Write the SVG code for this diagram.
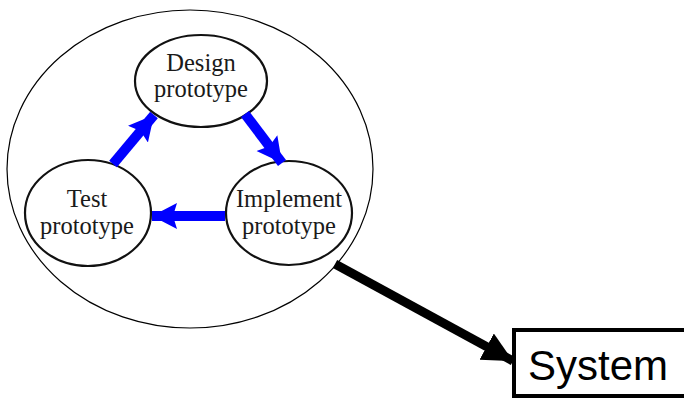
<svg xmlns="http://www.w3.org/2000/svg" width="684" height="400" viewBox="0 0 684 400">
  <style>
    .bubble { fill: #ffffff; stroke: #111111; stroke-width: 2.2; }
    .label { font-family: "Liberation Serif", "Times New Roman", serif; font-size: 24.5px; fill: #1a1a1a; text-anchor: middle; }
    .flow { stroke: #0000ff; stroke-width: 10; fill: none; }
    .out { stroke: #000000; stroke-width: 9; fill: none; }
  </style>
  <defs>
    <marker id="blueHead" markerUnits="userSpaceOnUse" markerWidth="30" markerHeight="30" refX="25" refY="13" orient="auto">
      <path d="M0,0 L25,13 L0,26 L4,13 Z" fill="#0000ff"/>
    </marker>
    <marker id="blackHead" markerUnits="userSpaceOnUse" markerWidth="34" markerHeight="34" refX="30" refY="15" orient="auto">
      <path d="M0,0 L30,15 L0,30 Z" fill="#000000"/>
    </marker>
  </defs>

  <rect width="684" height="400" fill="#ffffff"/>

  <!-- outer cycle boundary -->
  <g id="cycle">
    <ellipse cx="190" cy="169" rx="183" ry="159" fill="#ffffff" stroke="#000000" stroke-width="1.2"/>
  </g>

  <g id="design">
    <ellipse class="bubble" cx="201" cy="81" rx="66" ry="46"/>
    <text class="label" x="201" y="71">Design</text>
    <text class="label" x="201" y="97">prototype</text>
  </g>

  <g id="test">
    <ellipse class="bubble" cx="88" cy="213" rx="63" ry="53"/>
    <text class="label" x="87" y="207">Test</text>
    <text class="label" x="87" y="234">prototype</text>
  </g>

  <g id="implement">
    <ellipse class="bubble" cx="289" cy="213" rx="63" ry="52"/>
    <text class="label" x="289" y="207">Implement</text>
    <text class="label" x="289" y="234">prototype</text>
  </g>

  <g id="system">
    <rect x="514" y="330" width="180" height="66" fill="#ffffff" stroke="#000000" stroke-width="4"/>
    <text x="528" y="380" font-family="'Liberation Sans', Arial, sans-serif" font-size="42" fill="#000000">System</text>
  </g>

  <g id="connectors">
    <line class="flow" x1="113" y1="164" x2="154" y2="115" marker-end="url(#blueHead)"/>
    <line class="flow" x1="245" y1="114" x2="282" y2="163" marker-end="url(#blueHead)"/>
    <line class="flow" x1="225" y1="216" x2="152" y2="216" marker-end="url(#blueHead)"/>
    <line class="out" x1="335" y1="264" x2="513" y2="361" marker-end="url(#blackHead)"/>
  </g>
</svg>
